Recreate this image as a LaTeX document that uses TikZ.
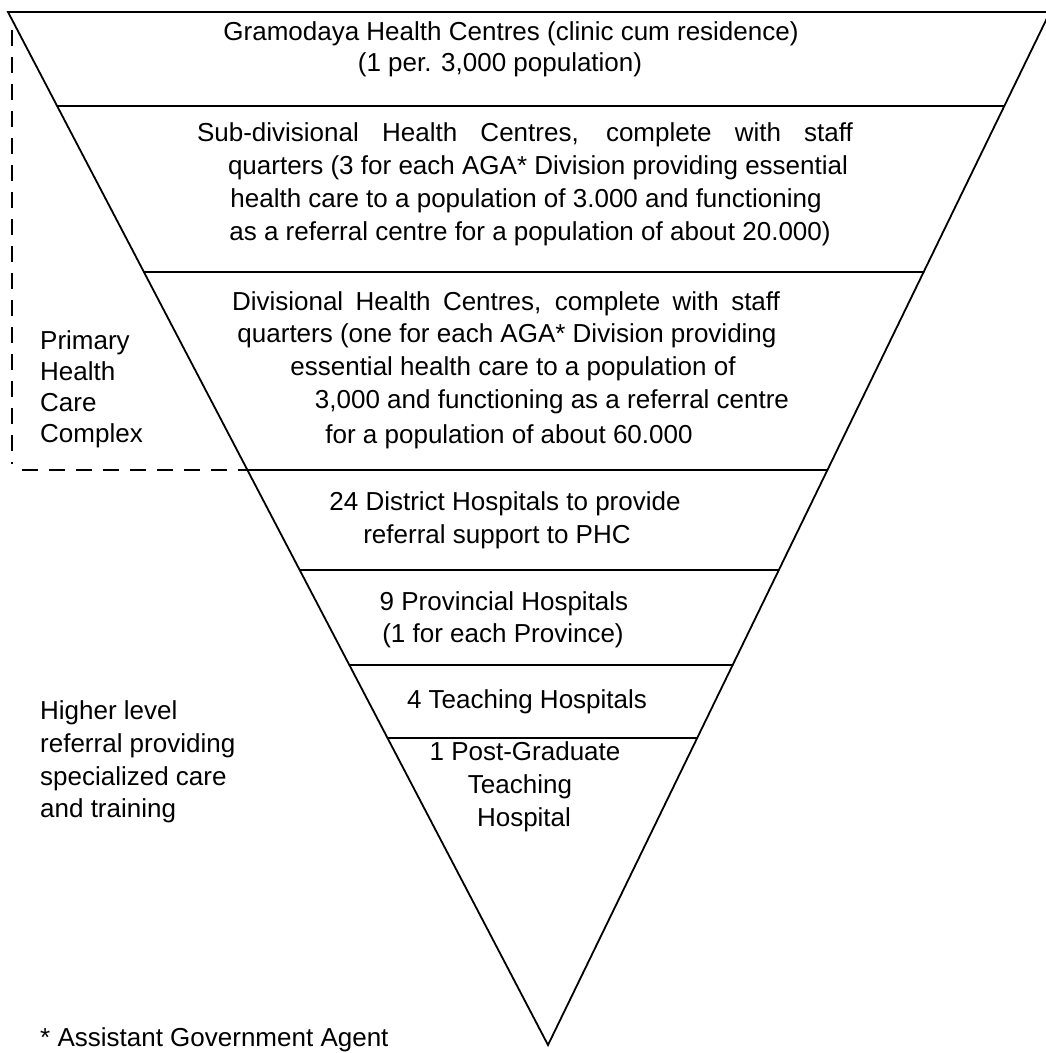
\documentclass[tikz,border=0pt]{standalone}
\usepackage{fontspec}
\setmainfont{Liberation Sans}
\begin{document}
\begin{tikzpicture}[x=1pt,y=-1pt,
  edge/.style={line width=1.8pt, line cap=round, line join=miter},
  dsh/.style={line width=1.8pt, dash pattern=on 16pt off 11pt},
  tier/.style={font=\fontsize{26}{33}\selectfont, inner sep=0pt, anchor=base},
  side/.style={font=\fontsize{26}{33}\selectfont, inner sep=0pt, anchor=base west}]
\useasboundingbox (0,0) rectangle (1046,1053);
% triangle
\coordinate (TL) at (8,12);
\coordinate (TR) at (1050,12);
\coordinate (AP) at (548,1045);
\draw[edge] (TL) -- (TR) -- (AP) -- cycle;
% tier dividers
\draw[edge] (57.1,106) -- (1004.3,106);
\draw[edge] (143.9,272) -- (923.6,272);
\draw[edge] (247.4,470) -- (827.4,470);
\draw[edge] (299.7,570) -- (778.8,570);
\draw[edge] (349.3,665) -- (732.6,665);
\draw[edge] (387.5,738) -- (697.2,738);
% primary health care bracket
\coordinate (vt) at (12,30);
\coordinate (vb) at (12,464);
\coordinate (hl) at (22,470);
\coordinate (hr) at (247.4,470);
\draw[dsh] (vt) -- (vb);
\draw[dsh] (hl) -- (hr);
% tier texts
\node[tier] (g1) at (511,40) {Gramodaya Health Centres (clinic cum residence)};
\node[tier] (g2) at (500,71) {(1 per. 3,000 population)};
\node[tier] (s1) at (525,141) {\makebox[656pt][s]{Sub-divisional Health Centres, complete with staff}};
\node[tier] (s2) at (538,174) {quarters (3 for each AGA* Division providing essential};
\node[tier] (s3) at (526,207) {health care to a population of 3.000 and functioning};
\node[tier] (s4) at (530,240) {as a referral centre for a population of about 20.000)};
\node[tier] (d1) at (506,310) {\makebox[548pt][s]{Divisional Health Centres, complete with staff}};
\node[tier] (d2) at (507,342) {quarters (one for each AGA* Division providing};
\node[tier] (d3) at (513,375) {essential health care to a population of};
\node[tier] (d4) at (552,408) {3,000 and functioning as a referral centre};
\node[tier] (d5) at (509,443) {for a population of about 60.000};
\node[tier] (h1) at (505,510) {24 District Hospitals to provide};
\node[tier] (h2) at (497,543) {referral support to PHC};
\node[tier] (p1) at (504,610) {9 Provincial Hospitals};
\node[tier] (p2) at (503,642) {(1 for each Province)};
\node[tier] (t1) at (527,708) {4 Teaching Hospitals};
\node[tier] (q1) at (525,760) {1 Post-Graduate};
\node[tier] (q2) at (520,793) {Teaching};
\node[tier] (q3) at (524,826) {Hospital};
% side labels
\node[side] (l1) at (40,349) {Primary};
\node[side] (l2) at (40,380) {Health};
\node[side] (l3) at (40,411) {Care};
\node[side] (l4) at (40,442) {Complex};
\node[side] (m1) at (40,719) {Higher level};
\node[side] (m2) at (40,752) {referral providing};
\node[side] (m3) at (40,785) {specialized care};
\node[side] (m4) at (40,817) {and training};
\node[side] (fn) at (40,1046) {* Assistant Government Agent};
\end{tikzpicture}
\end{document}
